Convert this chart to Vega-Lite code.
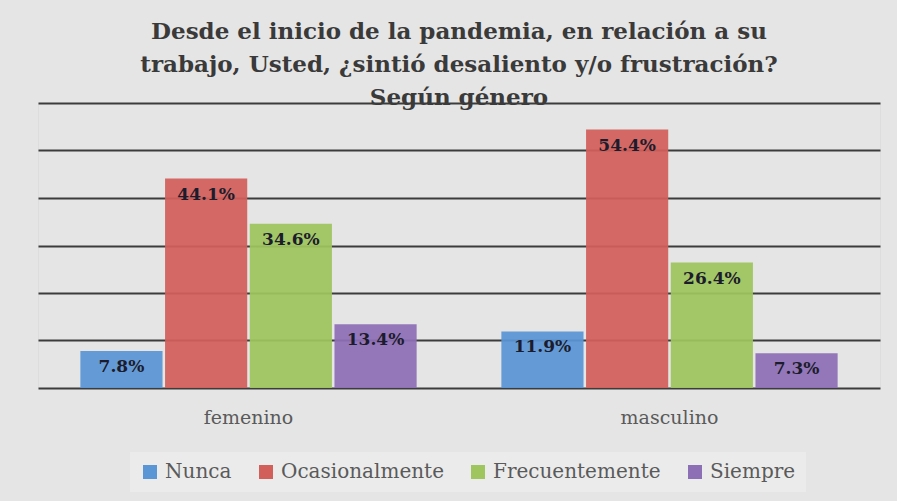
{
  "$schema": "https://vega.github.io/schema/vega-lite/v6.json",
  "autosize": "none",
  "width": 842,
  "height": 285,
  "padding": {"left": 38, "top": 103, "right": 17, "bottom": 113},
  "background": "#e5e5e5",
  "config": {"font": "DejaVu Serif", "legend": {"labelFont": "DejaVu Serif", "labelLimit": 400}},
  "title": {
    "text": ["Desde el inicio de la pandemia, en relación a su", "trabajo, Usted, ¿sintió desaliento y/o frustración?", "Según género"],
    "font": "DejaVu Serif",
    "fontSize": 23,
    "fontWeight": "bold",
    "color": "#3a3a3a",
    "lineHeight": 33,
    "anchor": "middle",
    "offset": -7
  },
  "data": {
    "values": [
      {"genero": "femenino", "respuesta": "Nunca", "pct": 0.078},
      {"genero": "femenino", "respuesta": "Ocasionalmente", "pct": 0.441},
      {"genero": "femenino", "respuesta": "Frecuentemente", "pct": 0.346},
      {"genero": "femenino", "respuesta": "Siempre", "pct": 0.134},
      {"genero": "masculino", "respuesta": "Nunca", "pct": 0.119},
      {"genero": "masculino", "respuesta": "Ocasionalmente", "pct": 0.544},
      {"genero": "masculino", "respuesta": "Frecuentemente", "pct": 0.264},
      {"genero": "masculino", "respuesta": "Siempre", "pct": 0.073}
    ]
  },
  "encoding": {
    "x": {
      "field": "genero", "type": "nominal", "title": null,
      "scale": {"paddingInner": 0, "paddingOuter": 0},
      "axis": {"labelAngle": 0, "ticks": false, "domain": false, "labelPadding": 20,
        "labelFont": "DejaVu Serif", "labelFontSize": 19, "labelColor": "#5a5a5a"}
    },
    "xOffset": {
      "field": "respuesta", "type": "nominal",
      "sort": ["Nunca", "Ocasionalmente", "Frecuentemente", "Siempre"],
      "scale": {"paddingInner": 0.03, "paddingOuter": 0.5}
    },
    "y": {
      "field": "pct", "type": "quantitative", "title": null,
      "scale": {"domain": [0, 0.6]},
      "axis": {"values": [0, 0.1, 0.2, 0.3, 0.4, 0.5, 0.6], "labels": false, "ticks": false, "domain": false,
        "grid": true, "gridColor": "#3c3c3c", "gridWidth": 2, "title": null}
    }
  },
  "layer": [
    {
      "mark": {"type": "bar", "fillOpacity": 0.93},
      "encoding": {
        "color": {
          "field": "respuesta", "type": "nominal",
          "sort": ["Nunca", "Ocasionalmente", "Frecuentemente", "Siempre"],
          "scale": {"domain": ["Nunca", "Ocasionalmente", "Frecuentemente", "Siempre"],
                    "range": ["#5a96d6", "#d25f5a", "#9ec55e", "#8d6fb6"]},
          "legend": {
            "title": null, "orient": "none", "direction": "horizontal",
            "legendX": 92, "legendY": 349, "padding": 10,
            "fillColor": "#ebebeb",
            "symbolType": "square", "symbolSize": 196, "symbolStrokeWidth": 0,
            "labelFont": "DejaVu Serif", "labelFontSize": 20, "labelColor": "#5a5a5a",
            "labelLimit": 400,
            "columnPadding": 24, "labelOffset": 5
          }
        }
      }
    },
    {
      "mark": {"type": "text", "baseline": "middle", "dy": 16, "font": "DejaVu Serif",
               "fontWeight": "bold", "fontSize": 17, "color": "#1c1c2c"},
      "encoding": {
        "text": {"field": "pct", "type": "quantitative", "format": ".1%"}
      }
    }
  ]
}
